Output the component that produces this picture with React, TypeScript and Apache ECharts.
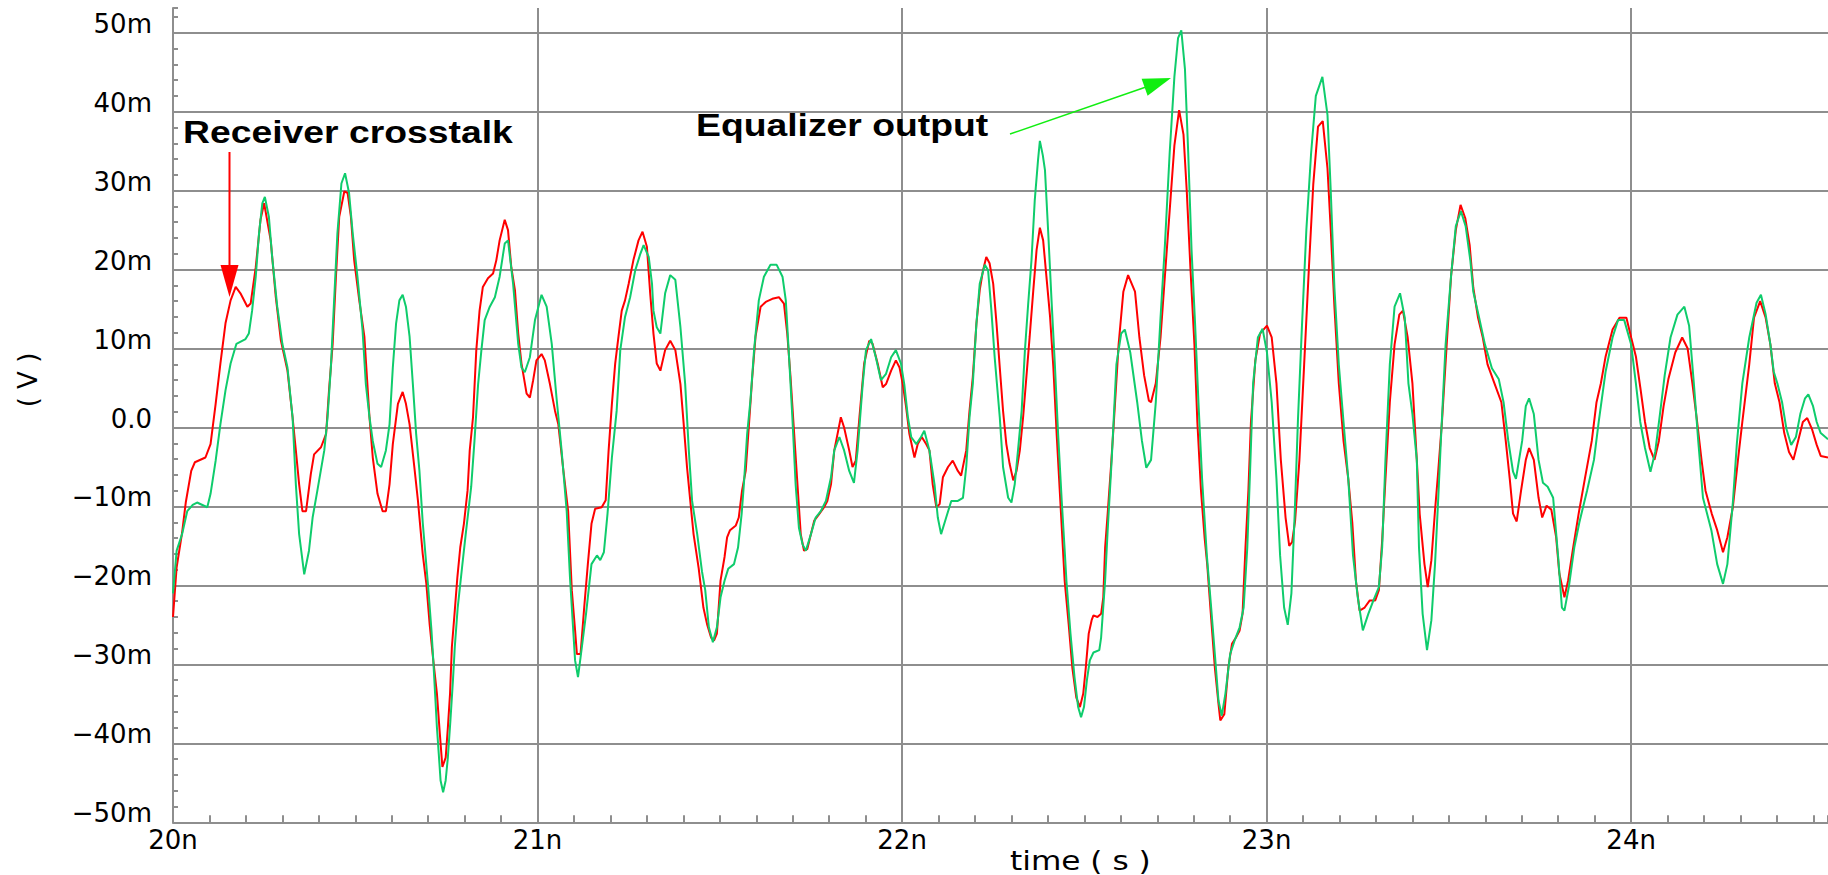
import React, { useEffect, useRef } from "react";
import * as echarts from "echarts";

// time (ns), voltage (mV)
const receiverCrosstalk: [number, number][] = [
  [20.0, -24.0], [20.01, -17.7], [20.025, -13.3], [20.035, -9.5], [20.05, -5.5], [20.06, -4.4], [20.089, -3.8],
  [20.103, -2.1], [20.117, 3.0], [20.13, 8.1], [20.144, 13.2], [20.158, 16.1], [20.172, 17.8], [20.185, 17.0],
  [20.204, 15.3], [20.213, 15.7], [20.227, 20.3], [20.24, 26.3], [20.25, 28.4], [20.268, 23.7], [20.282, 16.5],
  [20.296, 11.0], [20.314, 7.2], [20.328, 1.3], [20.337, -2.9], [20.346, -7.2], [20.355, -10.6], [20.365, -10.6],
  [20.378, -5.9], [20.387, -3.4], [20.406, -2.5], [20.42, -0.8], [20.428, 4.7], [20.438, 10.6], [20.447, 19.1],
  [20.456, 26.7], [20.47, 29.9], [20.479, 29.7], [20.488, 26.7], [20.497, 21.2], [20.511, 16.1], [20.525, 11.5],
  [20.539, 1.3], [20.548, -3.8], [20.561, -8.4], [20.575, -10.6], [20.584, -10.6], [20.594, -7.2], [20.603, -2.1],
  [20.617, 3.0], [20.63, 4.5], [20.639, 3.0], [20.649, 0.4], [20.662, -5.0], [20.672, -9.3], [20.685, -16.0],
  [20.695, -19.8], [20.704, -24.9], [20.714, -29.5], [20.724, -33.7], [20.732, -38.8], [20.739, -43.0],
  [20.748, -41.8], [20.754, -38.0], [20.76, -33.7], [20.765, -27.8], [20.773, -23.2], [20.78, -19.0],
  [20.788, -15.2], [20.798, -12.2], [20.808, -8.0], [20.814, -2.9], [20.823, 1.3], [20.832, 9.8], [20.841, 14.8],
  [20.85, 17.8], [20.864, 18.9], [20.878, 19.5], [20.887, 21.2], [20.896, 23.7], [20.91, 26.3], [20.919, 25.0],
  [20.928, 20.3], [20.938, 17.4], [20.947, 11.9], [20.956, 8.1], [20.97, 4.3], [20.979, 3.8], [20.988, 6.0],
  [20.997, 8.5], [21.011, 9.3], [21.02, 8.5], [21.034, 5.5], [21.048, 2.1], [21.057, 0.4], [21.071, -5.5],
  [21.084, -10.6], [21.094, -20.6], [21.103, -25.7], [21.108, -28.7], [21.118, -28.7], [21.128, -22.8],
  [21.138, -17.3], [21.148, -12.2], [21.158, -10.3], [21.176, -10.1], [21.187, -9.2], [21.195, -2.9],
  [21.204, 3.0], [21.213, 8.1], [21.222, 11.5], [21.231, 14.8], [21.24, 16.1], [21.25, 18.2], [21.263, 21.2],
  [21.277, 23.7], [21.288, 24.8], [21.3, 22.9], [21.309, 17.0], [21.318, 11.9], [21.327, 8.1], [21.337, 7.2],
  [21.35, 9.8], [21.364, 11.0], [21.378, 9.8], [21.392, 5.5], [21.401, 0.4], [21.41, -5.0], [21.419, -9.3],
  [21.428, -13.5], [21.442, -17.8], [21.455, -22.8], [21.465, -24.9], [21.476, -26.6], [21.484, -27.0],
  [21.492, -26.1], [21.502, -19.4], [21.513, -16.4], [21.52, -13.9], [21.528, -13.0], [21.544, -12.4],
  [21.552, -11.4], [21.561, -8.0], [21.571, -5.5], [21.58, 0.4], [21.589, 6.4], [21.598, 11.5], [21.612, 15.3],
  [21.626, 15.9], [21.644, 16.3], [21.662, 16.5], [21.676, 15.7], [21.685, 11.9], [21.694, 6.4], [21.704, -0.8],
  [21.713, -7.2], [21.722, -13.5], [21.731, -15.6], [21.74, -15.4], [21.75, -13.5], [21.759, -11.8],
  [21.772, -11.0], [21.786, -10.1], [21.795, -9.3], [21.805, -7.2], [21.814, -2.9], [21.823, -0.8], [21.832, 1.3],
  [21.841, 0.0], [21.855, -2.9], [21.864, -5.0], [21.873, -4.2], [21.883, 1.3], [21.896, 8.1], [21.91, 11.0],
  [21.919, 10.6], [21.933, 8.1], [21.947, 5.1], [21.956, 5.5], [21.97, 7.2], [21.983, 8.5], [21.993, 7.6],
  [22.002, 5.5], [22.011, 2.6], [22.02, -0.8], [22.034, -3.8], [22.043, -2.1], [22.054, -1.2], [22.066, -2.1],
  [22.075, -2.9], [22.084, -7.2], [22.094, -10.1], [22.103, -9.7], [22.112, -6.3], [22.126, -5.0],
  [22.139, -4.2], [22.153, -5.5], [22.162, -6.1], [22.176, -2.9], [22.185, 2.1], [22.194, 6.4], [22.204, 13.2],
  [22.213, 17.4], [22.222, 19.9], [22.231, 21.6], [22.24, 20.8], [22.25, 18.2], [22.259, 13.2], [22.268, 7.6],
  [22.277, 2.1], [22.286, -2.1], [22.295, -4.6], [22.305, -6.7], [22.314, -5.5], [22.323, -2.9], [22.332, 1.3],
  [22.341, 6.4], [22.35, 11.5], [22.36, 17.4], [22.369, 22.5], [22.378, 25.3], [22.387, 23.7], [22.396, 19.1],
  [22.406, 14.0], [22.415, 7.6], [22.424, -0.8], [22.436, -10.9], [22.446, -19.4], [22.457, -24.9],
  [22.467, -30.4], [22.478, -34.2], [22.488, -35.4], [22.497, -33.7], [22.504, -30.4], [22.512, -26.1],
  [22.52, -24.4], [22.525, -23.8], [22.536, -24.0], [22.546, -23.6], [22.552, -21.5], [22.557, -15.2],
  [22.564, -10.9], [22.573, -5.0], [22.581, 0.7], [22.594, 10.5], [22.607, 17.2], [22.62, 19.3], [22.639, 17.2],
  [22.651, 11.4], [22.664, 6.6], [22.677, 3.4], [22.683, 3.2], [22.696, 5.6], [22.709, 11.4], [22.721, 19.2],
  [22.734, 27.4], [22.747, 35.7], [22.76, 40.2], [22.772, 37.1], [22.781, 29.9], [22.791, 20.2], [22.802, 10.5],
  [22.81, 0.7], [22.82, -8.0], [22.83, -14.0], [22.837, -17.3], [22.847, -23.6], [22.858, -30.4], [22.868, -35.0],
  [22.873, -37.1], [22.884, -36.3], [22.895, -30.4], [22.905, -27.4], [22.916, -26.6], [22.926, -25.7],
  [22.934, -23.6], [22.942, -15.2], [22.95, -8.0], [22.957, 0.7], [22.969, 8.5], [22.982, 11.9], [23.001, 12.9],
  [23.014, 11.4], [23.027, 5.6], [23.039, -4.1], [23.052, -11.4], [23.062, -15.0], [23.07, -14.5],
  [23.078, -11.9], [23.09, -4.1], [23.103, 8.0], [23.116, 20.2], [23.128, 30.8], [23.141, 38.1], [23.154, 38.8],
  [23.167, 32.8], [23.176, 25.0], [23.186, 15.3], [23.198, 5.6], [23.211, -1.7], [23.224, -6.5], [23.235, -12.0],
  [23.245, -19.4], [23.255, -23.2], [23.269, -22.8], [23.283, -21.9], [23.298, -21.9], [23.308, -20.6],
  [23.317, -14.3], [23.326, -6.5], [23.338, 3.2], [23.351, 10.5], [23.364, 14.3], [23.374, 14.8], [23.387, 11.4],
  [23.4, 5.6], [23.412, -4.1], [23.42, -11.0], [23.433, -17.3], [23.442, -20.2], [23.452, -16.8], [23.462, -10.5],
  [23.47, -6.0], [23.481, 0.7], [23.494, 10.5], [23.506, 19.2], [23.519, 25.0], [23.532, 28.2], [23.545, 26.5],
  [23.557, 23.1], [23.567, 17.7], [23.58, 13.9], [23.593, 11.4], [23.606, 8.0], [23.625, 5.6], [23.644, 3.2],
  [23.656, -1.7], [23.667, -6.5], [23.676, -10.9], [23.686, -11.9], [23.698, -8.0], [23.711, -4.1],
  [23.72, -2.6], [23.733, -4.1], [23.746, -8.9], [23.756, -11.4], [23.768, -9.9], [23.781, -10.4],
  [23.794, -13.8], [23.803, -18.5], [23.817, -21.5], [23.827, -19.4], [23.841, -15.2], [23.856, -10.9],
  [23.873, -6.5], [23.892, -1.7], [23.905, 3.2], [23.917, 5.6], [23.93, 9.0], [23.949, 12.4], [23.968, 13.9],
  [23.987, 13.9], [24.0, 11.4], [24.013, 9.0], [24.025, 5.1], [24.038, 0.7], [24.051, -2.6], [24.064, -4.1],
  [24.076, -1.7], [24.089, 2.7], [24.102, 6.1], [24.121, 9.5], [24.14, 11.4], [24.155, 10.0], [24.168, 5.6],
  [24.181, 0.7], [24.193, -4.1], [24.204, -8.0], [24.221, -10.9], [24.236, -13.0], [24.252, -15.8],
  [24.264, -13.9], [24.279, -10.1], [24.293, -4.1], [24.305, 0.7], [24.324, 8.0], [24.337, 13.9], [24.354, 16.0],
  [24.369, 13.9], [24.382, 10.5], [24.394, 5.6], [24.407, 3.2], [24.42, -0.7], [24.433, -3.1], [24.445, -4.1],
  [24.458, -1.7], [24.471, 0.7], [24.483, 1.2], [24.496, -0.2], [24.509, -2.2], [24.52, -3.6], [24.54, -3.8],
];

const equalizerOutput: [number, number][] = [
  [20.0, -21.0], [20.01, -15.6], [20.025, -13.5], [20.039, -10.6], [20.054, -9.8], [20.066, -9.5], [20.094, -10.1],
  [20.103, -8.4], [20.117, -4.2], [20.13, 0.4], [20.144, 4.7], [20.158, 8.1], [20.174, 10.6], [20.199, 11.2],
  [20.208, 11.9], [20.217, 14.8], [20.227, 19.1], [20.236, 24.6], [20.245, 28.4], [20.252, 29.2], [20.263, 26.7],
  [20.272, 21.6], [20.286, 15.3], [20.3, 10.6], [20.314, 7.6], [20.328, 1.3], [20.337, -7.2], [20.346, -13.5],
  [20.36, -18.6], [20.373, -15.6], [20.383, -11.4], [20.396, -8.0], [20.415, -2.9], [20.424, 1.3], [20.433, 7.6],
  [20.442, 16.1], [20.451, 24.6], [20.462, 30.9], [20.472, 32.2], [20.483, 29.7], [20.493, 24.6], [20.506, 19.1],
  [20.52, 12.3], [20.529, 5.5], [20.539, 1.3], [20.548, -1.7], [20.561, -4.6], [20.571, -5.0], [20.584, -2.9],
  [20.594, 0.4], [20.603, 7.6], [20.612, 13.2], [20.621, 16.1], [20.63, 16.8], [20.639, 15.3], [20.649, 11.5],
  [20.658, 5.5], [20.667, -0.8], [20.676, -5.5], [20.685, -12.0], [20.7, -20.2], [20.709, -25.7], [20.714, -29.5],
  [20.719, -33.7], [20.724, -38.0], [20.729, -41.3], [20.734, -44.7], [20.741, -46.2], [20.748, -44.7],
  [20.754, -41.8], [20.761, -37.1], [20.768, -32.0], [20.773, -27.8], [20.781, -22.8], [20.793, -17.7],
  [20.803, -13.5], [20.818, -7.5], [20.827, -1.7], [20.837, 5.5], [20.846, 9.8], [20.855, 13.6], [20.869, 15.3],
  [20.883, 16.5], [20.896, 19.1], [20.91, 23.3], [20.919, 23.7], [20.933, 18.2], [20.947, 10.6], [20.956, 7.6],
  [20.965, 7.0], [20.979, 8.9], [20.993, 13.6], [21.011, 16.8], [21.025, 15.3], [21.039, 10.6], [21.052, 3.8],
  [21.066, -2.9], [21.08, -10.6], [21.089, -19.0], [21.103, -29.5], [21.111, -31.6], [21.118, -29.1],
  [21.133, -23.6], [21.148, -17.3], [21.163, -16.2], [21.172, -16.8], [21.182, -15.8], [21.192, -10.9],
  [21.204, -3.8], [21.217, 2.1], [21.227, 9.8], [21.24, 14.0], [21.254, 16.5], [21.268, 19.9], [21.282, 22.0],
  [21.291, 23.1], [21.305, 21.6], [21.314, 18.2], [21.318, 14.8], [21.327, 12.7], [21.337, 11.9], [21.35, 17.0],
  [21.364, 19.3], [21.378, 18.7], [21.392, 12.7], [21.405, 5.5], [21.415, -2.9], [21.424, -9.3], [21.438, -13.5],
  [21.451, -18.2], [21.46, -20.6], [21.47, -25.3], [21.481, -27.2], [21.492, -25.3], [21.502, -21.5],
  [21.513, -19.4], [21.523, -17.9], [21.539, -17.3], [21.55, -15.2], [21.56, -10.9], [21.566, -7.2],
  [21.575, -0.8], [21.584, 3.4], [21.594, 9.8], [21.607, 16.1], [21.621, 19.1], [21.639, 20.6], [21.656, 20.6],
  [21.672, 19.1], [21.681, 16.1], [21.69, 8.9], [21.699, 1.3], [21.708, -7.2], [21.717, -12.7], [21.727, -14.8],
  [21.736, -15.6], [21.75, -13.5], [21.763, -11.4], [21.777, -10.6], [21.791, -9.3], [21.805, -6.3],
  [21.814, -2.9], [21.828, -1.2], [21.841, -2.9], [21.855, -5.5], [21.868, -7.0], [21.878, -2.9], [21.892, 5.5],
  [21.901, 9.8], [21.915, 11.2], [21.928, 8.9], [21.942, 6.0], [21.956, 6.8], [21.97, 8.9], [21.983, 9.8],
  [21.997, 8.1], [22.006, 5.5], [22.016, 1.3], [22.025, -1.2], [22.039, -2.1], [22.052, -1.2], [22.061, -0.4],
  [22.075, -2.9], [22.089, -7.2], [22.098, -11.4], [22.107, -13.5], [22.121, -11.4], [22.135, -9.3],
  [22.153, -9.3], [22.167, -8.9], [22.176, -5.0], [22.185, 1.3], [22.194, 5.5], [22.204, 13.2], [22.213, 18.2],
  [22.227, 20.6], [22.236, 19.9], [22.245, 14.8], [22.254, 8.9], [22.268, 1.3], [22.277, -5.0], [22.291, -8.9],
  [22.3, -9.5], [22.309, -7.2], [22.318, -2.9], [22.328, 2.1], [22.337, 9.8], [22.346, 15.7], [22.355, 21.2],
  [22.364, 28.8], [22.373, 33.9], [22.378, 36.3], [22.386, 34.5], [22.392, 32.6], [22.401, 24.6], [22.41, 16.1],
  [22.419, 8.1], [22.428, -0.8], [22.438, -9.3], [22.446, -15.5], [22.451, -19.5], [22.462, -26.1],
  [22.473, -31.6], [22.483, -35.4], [22.491, -36.7], [22.499, -35.4], [22.507, -32.0], [22.515, -29.5],
  [22.525, -28.5], [22.541, -28.2], [22.546, -26.6], [22.557, -19.4], [22.564, -13.0], [22.575, -4.1],
  [22.588, 8.0], [22.601, 11.9], [22.611, 12.4], [22.626, 9.5], [22.645, 3.2], [22.658, -1.7], [22.67, -5.1],
  [22.683, -4.1], [22.696, 3.2], [22.709, 13.9], [22.721, 23.1], [22.734, 34.7], [22.747, 44.4], [22.757, 49.3],
  [22.766, 50.3], [22.776, 45.4], [22.785, 34.7], [22.794, 22.6], [22.804, 12.9], [22.813, 3.2], [22.823, -6.5],
  [22.836, -16.2], [22.847, -22.3], [22.858, -28.7], [22.868, -34.6], [22.877, -36.5], [22.887, -33.7],
  [22.9, -28.7], [22.912, -27.0], [22.926, -25.3], [22.937, -22.8], [22.947, -15.2], [22.955, -5.0],
  [22.963, 5.6], [22.976, 11.4], [22.989, 12.5], [23.001, 9.5], [23.014, 3.2], [23.027, -6.5], [23.037, -16.2],
  [23.048, -22.8], [23.058, -25.0], [23.068, -21.0], [23.077, -11.0], [23.086, 1.0], [23.097, 12.9],
  [23.109, 25.0], [23.122, 34.7], [23.135, 42.0], [23.153, 44.4], [23.167, 39.6], [23.176, 29.9], [23.186, 17.7],
  [23.198, 8.0], [23.211, 0.7], [23.224, -6.5], [23.237, -16.2], [23.25, -21.5], [23.264, -25.7], [23.279, -23.6],
  [23.293, -21.9], [23.308, -20.2], [23.317, -15.2], [23.326, -4.1], [23.338, 8.0], [23.351, 15.3],
  [23.366, 17.0], [23.379, 13.9], [23.389, 5.6], [23.4, 1.7], [23.412, -4.1], [23.418, -15.2], [23.428, -23.6],
  [23.44, -28.2], [23.452, -24.4], [23.462, -17.3], [23.471, -8.8], [23.478, -1.7], [23.491, 10.5],
  [23.506, 19.2], [23.519, 25.5], [23.533, 27.4], [23.546, 25.5], [23.559, 21.1], [23.567, 17.2], [23.583, 13.9],
  [23.599, 10.5], [23.618, 7.5], [23.637, 6.1], [23.65, 3.2], [23.663, -1.7], [23.676, -5.6], [23.684, -6.5],
  [23.701, -1.7], [23.711, 2.7], [23.72, 3.7], [23.733, 1.7], [23.746, -4.1], [23.758, -7.0], [23.771, -7.5],
  [23.786, -8.9], [23.8, -16.5], [23.81, -22.8], [23.817, -23.2], [23.829, -20.2], [23.844, -15.2],
  [23.858, -12.0], [23.879, -8.0], [23.898, -4.1], [23.911, 0.7], [23.93, 7.1], [23.949, 11.4], [23.964, 13.6],
  [23.981, 13.6], [24.0, 10.5], [24.013, 5.6], [24.025, 0.7], [24.038, -2.6], [24.053, -5.6], [24.066, -3.1],
  [24.079, 1.7], [24.092, 6.6], [24.108, 11.4], [24.127, 14.3], [24.146, 15.3], [24.159, 12.9], [24.172, 5.6],
  [24.184, -1.7], [24.197, -8.9], [24.22, -13.0], [24.236, -17.3], [24.252, -19.8], [24.264, -17.3],
  [24.279, -9.5], [24.29, -2.0], [24.305, 5.6], [24.324, 11.4], [24.344, 15.8], [24.356, 16.8], [24.369, 14.3],
  [24.382, 10.5], [24.391, 7.1], [24.401, 5.6], [24.414, 3.2], [24.426, -0.2], [24.439, -2.2], [24.452, -1.2],
  [24.464, 1.7], [24.477, 3.7], [24.486, 4.2], [24.499, 2.7], [24.509, 0.7], [24.52, -0.7], [24.54, -1.5],
];

const xTickValues = [20, 21, 22, 23, 24];
const xTickLabels = ["20n", "21n", "22n", "23n", "24n"];
const yTickValues = [-50, -40, -30, -20, -10, 0, 10, 20, 30, 40, 50];
const yTickLabels = ["−50m", "−40m", "−30m", "−20m", "−10m", "0.0", "10m", "20m", "30m", "40m", "50m"];

const X_MIN = 20;
const X_MAX = 24.54;
const Y_MIN = -50;
const Y_MAX = 53.13;

const GRID = "#8e8e8e";
const RED = "#ff0000";
const GREEN = "#0fcc6c";
const ARROW_GREEN = "#11ee11";
const TICK_FONT = "DejaVu Sans";

function lookup(values: number[], labels: string[], v: number): string {
  for (let i = 0; i < values.length; i++) {
    if (Math.abs(values[i] - v) < 1e-6) return labels[i];
  }
  return "";
}

export default function App() {
  const ref = useRef<HTMLDivElement>(null);

  useEffect(() => {
    if (!ref.current) return;
    const chart = echarts.init(ref.current, undefined, { renderer: "svg" });

    const option: any = {
      animation: false,
      backgroundColor: "#ffffff",
      grid: { left: 173, right: 0, top: 8, bottom: 52.7, containLabel: false },
      xAxis: [
        {
          type: "value",
          min: X_MIN,
          max: X_MAX,
          interval: 1,
          axisLine: { show: true, onZero: false, lineStyle: { color: GRID, width: 2 } },
          axisTick: { show: false },
          splitLine: { show: true, showMinLine: false, showMaxLine: false, lineStyle: { color: GRID, width: 2 } },
          axisLabel: {
            show: true,
            formatter: (v: number) => lookup(xTickValues, xTickLabels, v),
            fontFamily: TICK_FONT,
            fontSize: 26,
            lineHeight: 26,
            color: "#000",
            margin: 5,
            showMaxLabel: false,
          },
        },
        {
          type: "value",
          min: X_MIN,
          max: X_MAX,
          interval: 0.1,
          position: "bottom",
          axisLine: { show: false, onZero: false },
          axisTick: { show: true, inside: true, length: 7, lineStyle: { color: GRID, width: 2 } },
          axisLabel: { show: false },
          splitLine: { show: false },
        },
      ],
      yAxis: [
        {
          type: "value",
          min: Y_MIN,
          max: Y_MAX,
          interval: 10,
          axisLine: { show: true, onZero: false, lineStyle: { color: GRID, width: 2 } },
          axisTick: { show: false },
          splitLine: { show: true, showMinLine: false, showMaxLine: false, lineStyle: { color: GRID, width: 2 } },
          axisLabel: {
            show: true,
            formatter: (v: number) => lookup(yTickValues, yTickLabels, v),
            fontFamily: TICK_FONT,
            fontSize: 26,
            lineHeight: 18,
            verticalAlign: "bottom",
            color: "#000",
            margin: 21,
            showMaxLabel: false,
          },
        },
        {
          type: "value",
          min: Y_MIN,
          max: Y_MAX,
          interval: 2,
          position: "left",
          axisLine: { show: false, onZero: false },
          axisTick: { show: true, inside: true, length: 5, lineStyle: { color: GRID, width: 2 } },
          axisLabel: { show: false },
          splitLine: { show: false },
        },
      ],
      series: [
        {
          name: "Receiver crosstalk",
          type: "line",
          xAxisIndex: 0,
          yAxisIndex: 0,
          data: receiverCrosstalk,
          showSymbol: false,
          symbol: "none",
          lineStyle: { color: RED, width: 2 },
          itemStyle: { color: RED },
          z: 3,
        },
        {
          name: "Equalizer output",
          type: "line",
          xAxisIndex: 0,
          yAxisIndex: 0,
          data: equalizerOutput,
          showSymbol: false,
          symbol: "none",
          lineStyle: { color: GREEN, width: 2 },
          itemStyle: { color: GREEN },
          z: 4,
        },
      ],
      graphic: [
        {
          type: "text",
          z: 20,
          x: 183,
          y: 132,
          scaleX: 1.166,
          style: {
            text: "Receiver crosstalk",
            x: 0,
            y: 0,
            fill: "#000",
            fontFamily: "Liberation Sans",
            fontWeight: "bold",
            fontSize: 32,
            align: "left",
            verticalAlign: "middle",
          },
        },
        {
          type: "text",
          z: 20,
          x: 696,
          y: 124.5,
          scaleX: 1.166,
          style: {
            text: "Equalizer output",
            x: 0,
            y: 0,
            fill: "#000",
            fontFamily: "Liberation Sans",
            fontWeight: "bold",
            fontSize: 32,
            align: "left",
            verticalAlign: "middle",
          },
        },
        {
          type: "line",
          z: 20,
          shape: { x1: 229.5, y1: 152, x2: 229.5, y2: 268 },
          style: { stroke: RED, lineWidth: 2 },
        },
        {
          type: "polygon",
          z: 20,
          shape: { points: [[220.5, 265], [238.5, 265], [229.5, 297]] },
          style: { fill: RED },
        },
        {
          type: "line",
          z: 20,
          shape: { x1: 1010, y1: 134, x2: 1146, y2: 87 },
          style: { stroke: ARROW_GREEN, lineWidth: 1.5 },
        },
        {
          type: "polygon",
          z: 20,
          shape: { points: [[1171, 78], [1147.6, 95.7], [1141.6, 78.7]] },
          style: { fill: ARROW_GREEN },
        },
        {
          type: "text",
          z: 20,
          x: 28,
          y: 380,
          rotation: Math.PI / 2,
          style: {
            text: "( V )",
            x: 0,
            y: 0,
            fill: "#000",
            fontFamily: TICK_FONT,
            fontSize: 26,
            align: "center",
            verticalAlign: "middle",
          },
        },
        {
          type: "text",
          z: 20,
          x: 1010,
          y: 861,
          scaleX: 1.2,
          style: {
            text: "time ( s )",
            x: 0,
            y: 0,
            fill: "#000",
            fontFamily: TICK_FONT,
            fontSize: 26,
            align: "left",
            verticalAlign: "middle",
          },
        },
      ],
    };

    chart.setOption(option);
    return () => {
      chart.dispose();
    };
  }, []);

  return (
    <div
      ref={ref}
      style={{ position: "fixed", left: 0, top: 0, width: 1828, height: 875, background: "#fff" }}
    />
  );
}
